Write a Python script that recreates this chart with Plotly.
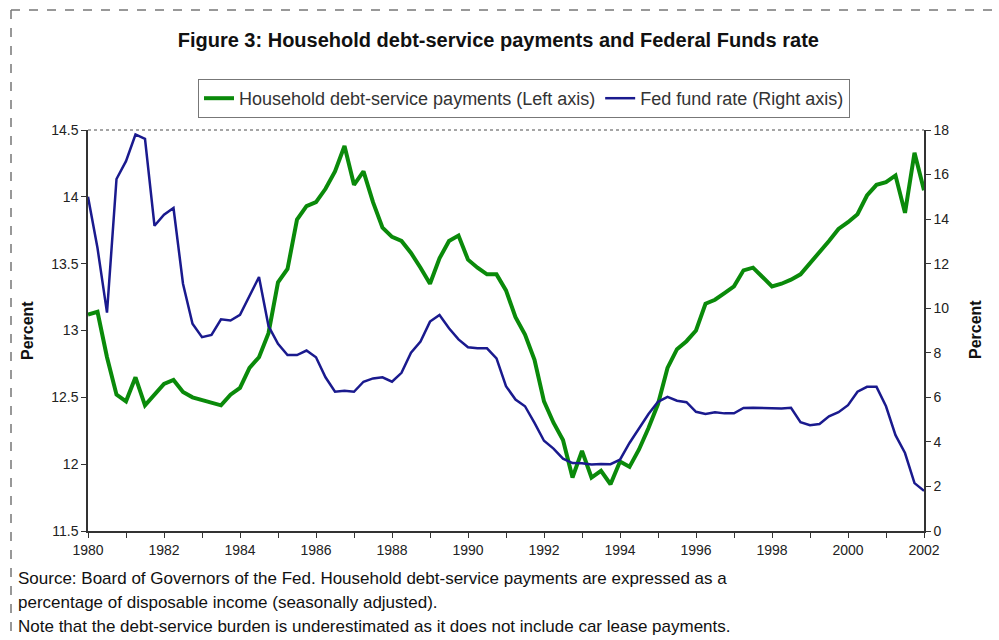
import plotly.graph_objects as go

# Quarterly observations, 1980Q1 .. 2002Q1
start_year = 1980
debt_service = [
    13.12, 13.14, 12.80, 12.52, 12.47, 12.65, 12.44, 12.52, 12.60, 12.63,
    12.54, 12.50, 12.48, 12.46, 12.44, 12.52, 12.57, 12.72, 12.80, 12.98,
    13.36, 13.46, 13.83, 13.93, 13.96, 14.06, 14.19, 14.38, 14.09, 14.19,
    13.96, 13.77, 13.70, 13.67, 13.58, 13.47, 13.35, 13.54, 13.67, 13.71,
    13.53, 13.47, 13.42, 13.42, 13.30, 13.10, 12.97, 12.78, 12.47, 12.31,
    12.18, 11.90, 12.10, 11.90, 11.95, 11.85, 12.02, 11.98, 12.11, 12.27,
    12.45, 12.72, 12.86, 12.92, 13.00, 13.20, 13.23, 13.28, 13.33, 13.45,
    13.47, 13.40, 13.33, 13.35, 13.38, 13.42, 13.50, 13.59, 13.67, 13.76,
    13.81, 13.87, 14.01, 14.09, 14.11, 14.16, 13.88, 14.33, 14.05,
]
fed_funds = [
    15.0, 12.7, 9.8, 15.8, 16.6, 17.8, 17.6, 13.7, 14.2, 14.5,
    11.1, 9.3, 8.7, 8.8, 9.5, 9.45, 9.7, 10.55, 11.4, 9.2,
    8.4, 7.9, 7.9, 8.1, 7.8, 6.9, 6.25, 6.3, 6.25, 6.7,
    6.85, 6.9, 6.7, 7.1, 8.0, 8.5, 9.4, 9.7, 9.1, 8.6,
    8.25, 8.2, 8.2, 7.75, 6.5, 5.9, 5.6, 4.85, 4.05, 3.7,
    3.25, 3.05, 3.04, 2.98, 3.01, 3.0, 3.2, 3.95, 4.6, 5.25,
    5.8, 6.02, 5.85, 5.78, 5.35, 5.25, 5.33, 5.28, 5.28, 5.52,
    5.53, 5.52, 5.52, 5.5, 5.53, 4.88, 4.75, 4.8, 5.15, 5.33,
    5.65, 6.25, 6.47, 6.47, 5.6, 4.3, 3.5, 2.15, 1.8,
]
dates = [start_year + i / 4 for i in range(len(debt_service))]

year_ticks = list(range(1980, 2003))
year_labels = [str(y) if y % 2 == 0 else "" for y in year_ticks]
left_ticks = [11.5, 12, 12.5, 13, 13.5, 14, 14.5]
left_labels = ["11.5", "12", "12.5", "13", "13.5", "14", "14.5"]
right_ticks = list(range(0, 19, 2))

title_text = "Figure 3: Household debt-service payments and Federal Funds rate"
series_names = ["Household debt-service payments (Left axis)", "Fed fund rate (Right axis)"]
notes = [
    "Source: Board of Governors of the Fed. Household debt-service payments are expressed as a",
    "percentage of disposable income (seasonally adjusted).",
    "Note that the debt-service burden is underestimated as it does not include car lease payments.",
]

FONT = "Liberation Sans, Arial, sans-serif"
W, H = 999, 640
ML, MR, MT, MB = 88, 75, 130, 109
PW, PH = W - ML - MR, H - MT - MB

def px(x):
    return (x - ML) / PW

def py(y):
    return (H - MB - y) / PH

fig = go.Figure()
fig.add_trace(go.Scatter(x=dates, y=debt_service, name=series_names[0], mode="lines",
                         line=dict(color="#0a8a0a", width=4), yaxis="y"))
fig.add_trace(go.Scatter(x=dates, y=fed_funds, name=series_names[1], mode="lines",
                         line=dict(color="#1a1a8e", width=2.5), yaxis="y2"))

axis_common = dict(showgrid=False, zeroline=False, showline=True, linecolor="#333",
                   linewidth=1.5, ticks="outside", ticklen=5, tickcolor="#333",
                   tickfont=dict(family=FONT, size=14, color="#222"))

fig.update_layout(
    width=W, height=H,
    margin=dict(l=ML, r=MR, t=MT, b=MB),
    paper_bgcolor="white", plot_bgcolor="white",
    title=dict(text="<b>" + title_text + "</b>", x=px(505), xanchor="center",
               y=1 - 40 / H, yanchor="middle",
               font=dict(family=FONT, size=20, color="#111")),
    xaxis=dict(range=[1980, 2002], tickvals=year_ticks, ticktext=year_labels, **axis_common),
    yaxis=dict(range=[11.5, 14.5], tickvals=left_ticks, ticktext=left_labels, **axis_common),
    yaxis2=dict(range=[0, 18], tickvals=right_ticks, overlaying="y", side="right", **axis_common),
    legend=dict(orientation="h", x=px(524), xanchor="center", y=py(79), yanchor="top",
                bordercolor="#777", borderwidth=1, bgcolor="white",
                font=dict(family=FONT, size=18, color="#333"),
                itemwidth=30, tracegroupgap=0),
    showlegend=True,
)

fig.add_annotation(text="<b>Percent</b>", xref="paper", yref="paper", x=px(27), y=py(330),
                   xanchor="center", yanchor="middle",
                   textangle=-90, showarrow=False, font=dict(family=FONT, size=16, color="#111"))
fig.add_annotation(text="<b>Percent</b>", xref="paper", yref="paper", x=px(975), y=py(330),
                   xanchor="center", yanchor="middle",
                   textangle=-90, showarrow=False, font=dict(family=FONT, size=16, color="#111"))

for t, yy in zip(notes, [578, 602, 626]):
    fig.add_annotation(text=t, xref="paper", yref="paper", x=px(16), y=py(yy),
                       xanchor="left", yanchor="middle", showarrow=False,
                       font=dict(family=FONT, size=17, color="#111"))

# outer dashed frame (top and left) and dotted plot-area top border
fig.add_shape(type="line", xref="paper", yref="paper", x0=px(11), x1=px(1005), y0=py(10), y1=py(10),
              line=dict(color="#777", width=1.5, dash="dash"))
fig.add_shape(type="line", xref="paper", yref="paper", x0=px(11), x1=px(11), y0=py(10), y1=py(645),
              line=dict(color="#777", width=1.5, dash="dash"))
fig.add_shape(type="line", xref="paper", yref="paper", x0=0, x1=1, y0=1, y1=1,
              line=dict(color="#888", width=1.5, dash="dot"))

fig.write_html("out.html")
